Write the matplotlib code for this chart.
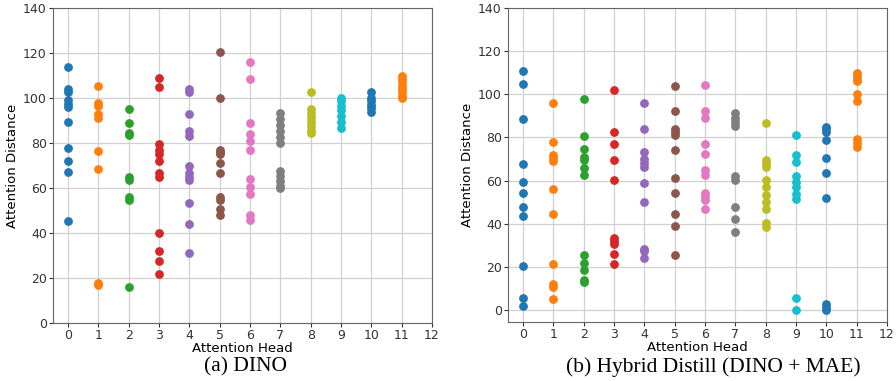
import matplotlib.pyplot as plt

# attention distance per head
dino = [
    [114, 104, 102.5, 99, 97.5, 96, 89.5, 78, 72, 67, 45.5],
    [105.5, 98, 96.5, 93, 91, 76.5, 68.5, 18, 17],
    [95, 89, 84.5, 83.5, 65, 63.5, 56, 54.5, 16],
    [109, 105, 79.5, 77, 75, 72, 66.5, 65, 40, 32, 27.5, 22],
    [104, 102.5, 93, 85.5, 83, 70, 66.5, 65, 63.5, 53.5, 44, 31],
    [120.5, 100, 77, 76, 75, 71, 66.5, 56, 54.5, 50.5, 48],
    [116, 108.5, 89, 84, 81, 77, 64, 60.5, 57.5, 48, 46],
    [93.5, 90.5, 88, 85.5, 82.5, 80, 67.5, 65.5, 63, 61, 60],
    [102.5, 95, 93.5, 91.5, 89.5, 87.5, 86, 84.5],
    [100, 98.5, 96.5, 94.5, 92, 89.5, 86.5],
    [102.5, 100, 98.5, 97, 95.5, 94],
    [110, 108.5, 107, 105.5, 104, 102.5, 101, 100],
]

hybrid = [
    [111, 105, 88.5, 67.5, 59.5, 54.5, 48, 43.5, 20.5, 5.5, 2],
    [96, 78, 72, 70.5, 69, 56, 44.5, 21.5, 12, 10.5, 5],
    [98, 80.5, 74.5, 71, 69.5, 66, 62.5, 25.5, 22, 18.5, 14, 13],
    [102, 82.5, 77, 69.5, 60.5, 33.5, 32, 30.5, 26, 21.5],
    [96, 84, 73.5, 70, 68, 66.5, 59, 50, 28.5, 27.5, 24],
    [104, 92.5, 84, 82.5, 81, 74, 61, 54.5, 44.5, 39, 25.5],
    [104.5, 92.5, 89, 77, 72.5, 65, 62.5, 54.5, 53, 51, 47],
    [91.5, 89, 87, 85.5, 62, 60.5, 48, 42, 36],
    [86.5, 69.5, 68, 66.5, 60.5, 57, 53.5, 50, 47, 40.5, 38.5],
    [81, 72, 68.5, 62, 59.5, 57, 54, 51.5, 5.5, 0],
    [85, 84, 82.5, 79, 70.5, 63.5, 52, 3, 1.5, 0],
    [110, 108.5, 107, 106, 100, 97, 79.5, 77.5, 75.5],
]

captions = ["(a) DINO", "(b) Hybrid Distill (DINO + MAE)"]

fig = plt.figure(figsize=(8.96, 3.81), dpi=100)
ax1 = fig.add_axes([53 / 896, 58 / 381, 379 / 896, 315 / 381])
ax2 = fig.add_axes([508 / 896, 59 / 381, 379 / 896, 314 / 381])


def draw(ax, data, ylim):
    for head, vals in enumerate(data):
        ax.scatter([head] * len(vals), vals, s=28, zorder=3)
    ax.set_xlim(-0.5, 12)
    ax.set_ylim(*ylim)
    ax.set_xticks(range(0, 13))
    ax.set_yticks(range(0, 141, 20))
    ax.grid(True, color="#d0d0d0", linewidth=0.9)
    ax.set_axisbelow(True)
    ax.tick_params(labelsize=9, colors="#333333", length=3, pad=1.5)
    for sp in ax.spines.values():
        sp.set_color("#666666")
    ax.set_xlabel("Attention Head", fontsize=9.5, labelpad=0)
    ax.set_ylabel("Attention Distance", fontsize=9.5, labelpad=3)


draw(ax1, dino, (0, 140))
draw(ax2, hybrid, (-5.5, 140))

fig.text(245 / 896, 1 - 367 / 381, captions[0], family="Liberation Serif",
         fontsize=15.5, ha="center", va="center")
fig.text(713 / 896, 1 - 367 / 381, captions[1], family="Liberation Serif",
         fontsize=15.5, ha="center", va="center")

fig.savefig("out.png", dpi=100)
